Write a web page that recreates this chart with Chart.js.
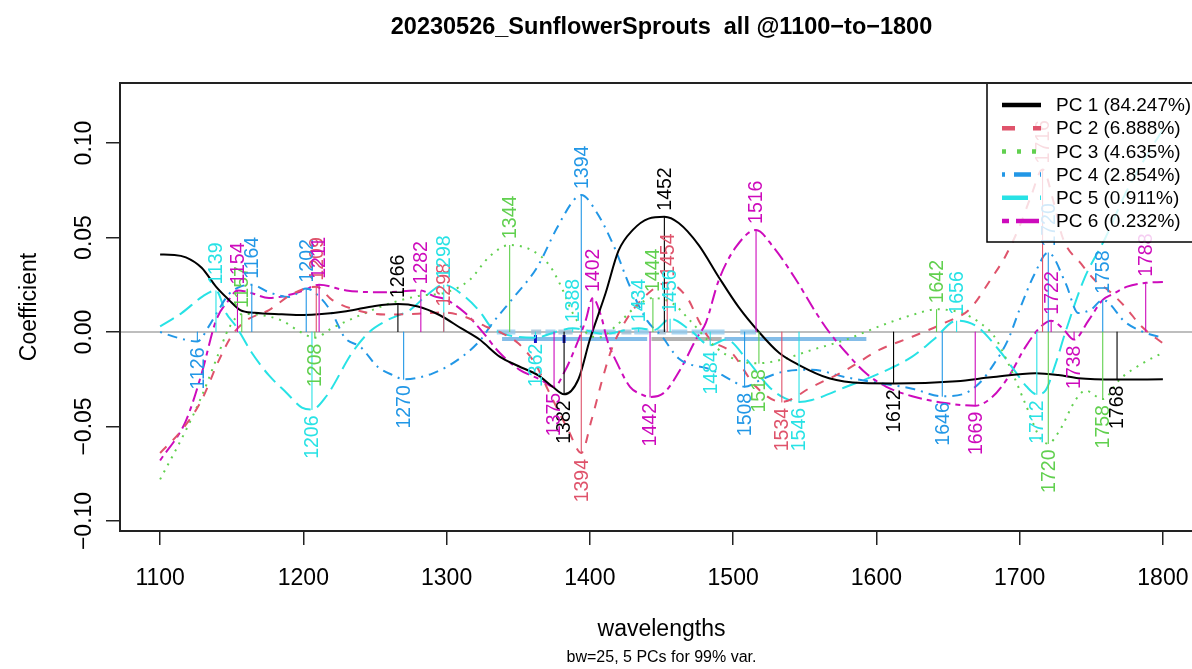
<!DOCTYPE html>
<html><head><meta charset="utf-8">
<script src="https://cdn.jsdelivr.net/npm/chart.js@4/dist/chart.umd.min.js"></script>
<style>html,body{margin:0;padding:0;overflow:hidden;background:#fff;width:1192px;height:669px}canvas{display:block}</style>
</head><body>
<canvas id="c" width="1210" height="669"></canvas>
<script>
// ---------- DATA ----------
const chartTitle = '20230526_SunflowerSprouts  all @1100\u2212to\u22121800';
const xTitle = 'wavelengths';
const yTitle = 'Coefficient';
const subTitle = 'bw=25, 5 PCs for 99% var.';
const wlTicks = [1100,1200,1300,1400,1500,1600,1700,1800];
const coefTicks = [-0.10,-0.05,0,0.05,0.10];
const coefTickLabels = ['\u22120.10','\u22120.05','0.00','0.05','0.10'];
const seriesNames = ['PC 1 (84.247%)','PC 2 (6.888%)','PC 3 (4.635%)','PC 4 (2.854%)','PC 5 (0.911%)','PC 6 (0.232%)'];

const pc1Wl = [1100,1110,1118,1129,1139,1148,1156,1166,1185,1200,1230,1250,1266,1280,1295,1310,1323,1337,1350,1364,1374,1382,1392,1400,1411,1420,1430,1441,1452,1462,1476,1490,1504,1518,1532,1546,1567,1590,1612,1656,1680,1711,1727,1741,1768,1800];
const pc1Val = [0.041,0.0408,0.0395,0.034,0.024,0.017,0.0116,0.0102,0.0094,0.009,0.011,0.0138,0.0148,0.0135,0.009,0.002,-0.004,-0.013,-0.018,-0.023,-0.029,-0.033,-0.025,-0.004,0.0206,0.043,0.054,0.060,0.061,0.0577,0.046,0.029,0.013,0.0,-0.011,-0.0175,-0.0245,-0.027,-0.0272,-0.026,-0.024,-0.0218,-0.0228,-0.0245,-0.0252,-0.025];

const pc2Wl = [1100,1115,1129,1141,1150,1160,1176,1192,1209,1220,1240,1260,1280,1298,1313,1327,1337,1350,1362,1371,1385,1394,1401,1408,1415,1425,1440,1454,1468,1476,1483,1499,1516,1534,1555,1579,1602,1625,1648,1665,1680,1690,1700,1708,1716,1724,1730,1743,1753,1762,1774,1785,1800];
const pc2Val = [-0.064,-0.052,-0.036,-0.015,-0.002,0.006,0.0116,0.02,0.024,0.017,0.011,0.0092,0.0097,0.0103,0.008,0.003,0.0,-0.006,-0.017,-0.031,-0.052,-0.064,-0.047,-0.027,-0.0095,0.006,0.02,0.026,0.018,0.006,-0.003,-0.011,-0.029,-0.037,-0.029,-0.020,-0.0095,-0.0025,0.005,0.012,0.028,0.040,0.056,0.072,0.086,0.068,0.05,0.036,0.027,0.022,0.013,0.003,-0.006];

const pc3Wl = [1100,1118,1129,1141,1148,1157,1170,1185,1198,1208,1220,1240,1260,1280,1300,1316,1330,1344,1360,1372,1380,1388,1397,1406,1418,1430,1444,1458,1470,1482,1495,1508,1518,1532,1555,1579,1602,1625,1642,1660,1672,1682,1692,1704,1715,1720,1728,1739,1746,1758,1770,1786,1800];
const pc3Val = [-0.078,-0.052,-0.034,-0.011,0.002,0.0095,0.009,0.006,0.0,-0.003,0.002,0.009,0.015,0.019,0.021,0.0275,0.04,0.046,0.043,0.035,0.024,0.01,0.0,-0.003,0.003,0.012,0.018,0.015,0.006,-0.004,-0.012,-0.016,-0.0165,-0.015,-0.0095,-0.004,0.003,0.009,0.012,0.01,0.005,-0.002,-0.0165,-0.038,-0.057,-0.059,-0.052,-0.036,-0.031,-0.0355,-0.025,-0.0165,-0.011];

const pc4Wl = [1100,1112,1126,1134,1141,1148,1156,1164,1176,1190,1202,1212,1220,1229,1240,1252,1263,1270,1290,1311,1325,1330,1347,1363,1377,1389,1394,1405,1417,1428,1440,1450,1462,1485,1500,1508,1520,1535,1555,1579,1602,1625,1646,1660,1672,1682,1692,1700,1710,1720,1732,1741,1750,1758,1774,1788,1800];
const pc4Val = [0.0,-0.003,-0.005,0.003,0.012,0.02,0.024,0.025,0.021,0.0185,0.023,0.018,0.01,-0.003,-0.008,-0.0185,-0.023,-0.025,-0.022,-0.013,-0.003,0.0026,0.0185,0.034,0.055,0.07,0.0725,0.063,0.045,0.024,0.006,-0.002,-0.014,-0.020,-0.026,-0.029,-0.025,-0.021,-0.020,-0.024,-0.027,-0.030,-0.034,-0.033,-0.027,-0.017,-0.004,0.012,0.030,0.042,0.026,0.010,0.012,0.017,0.005,-0.0005,-0.003];

const pc5Wl = [1100,1115,1130,1139,1146,1153,1164,1176,1188,1199,1206,1216,1234,1246,1258,1275,1287,1298,1313,1324,1331,1340,1362,1376,1388,1410,1434,1445,1456,1470,1484,1495,1510,1525,1536,1546,1555,1579,1602,1625,1640,1656,1670,1685,1697,1705,1712,1718,1725,1732,1745,1760,1775,1790,1800];
const pc5Val = [0.003,0.01,0.019,0.022,0.01,0.003,-0.011,-0.023,-0.032,-0.04,-0.041,-0.034,-0.011,0.0,0.006,0.012,0.02,0.025,0.0185,0.01,0.0026,-0.001,-0.003,0.0,0.002,-0.001,0.002,0.001,0.007,0.001,-0.007,-0.004,-0.015,-0.029,-0.035,-0.037,-0.036,-0.029,-0.022,-0.013,-0.004,0.006,0.003,-0.009,-0.021,-0.029,-0.033,-0.031,-0.017,0.0,0.028,0.05,0.075,0.095,0.107];

const pc6Wl = [1100,1118,1129,1139,1148,1154,1162,1176,1192,1200,1211,1230,1255,1282,1291,1300,1313,1324,1337,1351,1365,1375,1383,1390,1397,1402,1408,1412,1419,1428,1436,1442,1452,1463,1474,1481,1490,1502,1516,1528,1544,1558,1567,1579,1593,1607,1625,1648,1669,1680,1692,1704,1715,1722,1730,1738,1748,1758,1765,1775,1788,1800];
const pc6Val = [-0.068,-0.047,-0.022,0.006,0.017,0.022,0.021,0.018,0.02,0.022,0.025,0.022,0.021,0.022,0.019,0.017,0.01,0.001,-0.011,-0.02,-0.025,-0.029,-0.02,-0.008,0.006,0.018,0.008,-0.004,-0.0165,-0.029,-0.033,-0.0344,-0.032,-0.02,-0.004,0.005,0.0275,0.045,0.054,0.045,0.0275,0.01,0.0,-0.011,-0.022,-0.029,-0.034,-0.0376,-0.039,-0.035,-0.024,-0.008,0.003,0.006,0.002,-0.004,0.006,0.017,0.02,0.024,0.026,0.0265];

const pc1PeakWl = [1266,1382,1452,1612,1768];
const pc1PeakVal = [0.0148,-0.033,0.061,-0.0272,-0.0252];
const pc2PeakWl = [1209,1298,1394,1454,1534,1716];
const pc2PeakVal = [0.024,0.0103,-0.064,0.026,-0.037,0.086];
const pc3PeakWl = [1157,1208,1344,1444,1518,1642,1720,1758];
const pc3PeakVal = [0.0095,-0.003,0.046,0.018,-0.0165,0.012,-0.059,-0.0355];
const pc4PeakWl = [1126,1164,1202,1270,1394,1508,1646,1720,1758];
const pc4PeakVal = [-0.005,0.025,0.023,-0.025,0.0725,-0.029,-0.034,0.042,0.017];
const pc5PeakWl = [1139,1206,1298,1362,1388,1434,1456,1484,1546,1656,1712];
const pc5PeakVal = [0.022,-0.041,0.025,-0.003,0.002,0.002,0.007,-0.007,-0.037,0.006,-0.033];
const pc6PeakWl = [1154,1211,1282,1375,1402,1442,1516,1669,1722,1738,1788];
const pc6PeakVal = [0.022,0.025,0.022,-0.029,0.018,-0.0344,0.054,-0.039,0.006,-0.004,0.026];

// band indicators near zero
const bandRowAValue = 0;
const bandRowBValue = -0.0037;
const bandLightA = [[1335,1348],[1369,1376],[1397,1418],[1431,1441],[1457,1468],[1471,1494],[1505,1516]];
const bandGreyA = [[1359,1366],[1378,1388],[1422,1429],[1447,1453]];
const bandBlueB = [[1338.7,1440],[1494,1593]];
const bandGreyB = [[1443,1492]];
const bandMarkWl = [1362,1382];

// ---------- STYLE ----------
const FONT = '"Liberation Sans", Arial, Helvetica, sans-serif';
const colors = ['#000000','#DF536B','#61D04F','#2297E6','#28E2E5','#CD0BBC'];
const dashes = [[],[9,9],[2,6],[2,6,10,6],[16,7],[5,5,14,5]];
const legendDashes = [[],[13,18],[4,11],[3,9,17,9],[26,12],[7,7,23,7]];

const curveWl = [pc1Wl,pc2Wl,pc3Wl,pc4Wl,pc5Wl,pc6Wl];
const curveVal = [pc1Val,pc2Val,pc3Val,pc4Val,pc5Val,pc6Val];
const peakWl = [pc1PeakWl,pc2PeakWl,pc3PeakWl,pc4PeakWl,pc5PeakWl,pc6PeakWl];
const peakVal = [pc1PeakVal,pc2PeakVal,pc3PeakVal,pc4PeakVal,pc5PeakVal,pc6PeakVal];

function segData(pairs, y){
  const out=[];
  pairs.forEach(p=>{out.push({x:p[0],y:y},{x:p[1],y:y},{x:p[1],y:null});});
  return out;
}

const datasets = [];
datasets.push({data:[{x:1072,y:0},{x:1828,y:0}],borderColor:'#BEBEBE',borderWidth:2,pointRadius:0,order:100});
datasets.push({data:segData(bandLightA,bandRowAValue),borderColor:'rgba(140,200,238,0.75)',borderWidth:5,borderCapStyle:'butt',pointRadius:0,spanGaps:false,order:95});
datasets.push({data:segData(bandGreyA,bandRowAValue),borderColor:'rgba(150,185,210,0.75)',borderWidth:5,borderCapStyle:'butt',pointRadius:0,spanGaps:false,order:95});
datasets.push({data:segData(bandBlueB,bandRowBValue),borderColor:'rgba(110,178,228,0.85)',borderWidth:4,borderCapStyle:'butt',pointRadius:0,spanGaps:false,order:94});
datasets.push({data:segData(bandGreyB,bandRowBValue),borderColor:'rgba(170,170,170,0.9)',borderWidth:4,borderCapStyle:'butt',pointRadius:0,spanGaps:false,order:94});
datasets.push({data:bandMarkWl.map(w=>({x:w,y:bandRowBValue})),showLine:false,pointStyle:'line',rotation:90,pointRadius:4,pointBorderWidth:3,pointBorderColor:'#1515C8',pointBackgroundColor:'#1515C8',order:93});
for(let k=5;k>=0;k--){
  datasets.push({data:curveWl[k].map((w,i)=>({x:w,y:curveVal[k][i]})),borderColor:colors[k],borderWidth:2,borderDash:dashes[k],pointRadius:0,cubicInterpolationMode:'monotone',fill:false,order:50+k});
}
for(let k=0;k<6;k++){
  const d=[];
  peakWl[k].forEach((w,i)=>{d.push({x:w,y:0},{x:w,y:peakVal[k][i]},{x:w,y:null});});
  datasets.push({data:d,borderColor:colors[k],borderWidth:1.1,pointRadius:0,spanGaps:false,tension:0,order:20});
}

const overlay = {
  id:'overlay',
  afterDraw(chart){
    const ctx=chart.ctx, xs=chart.scales.x, ys=chart.scales.y, a=chart.chartArea;
    ctx.save();
    ctx.save();
    ctx.beginPath(); ctx.rect(a.left,a.top,a.right-a.left,a.bottom-a.top); ctx.clip();
    ctx.font='19.5px '+FONT; ctx.textBaseline='middle';
    for(let k=0;k<6;k++){
      ctx.fillStyle=colors[k];
      peakWl[k].forEach((w,i)=>{
        const v=peakVal[k][i];
        const px=xs.getPixelForValue(w), py=ys.getPixelForValue(v);
        ctx.save();
        ctx.translate(px+1, v>=0? py-6 : py+6);
        ctx.rotate(-Math.PI/2);
        ctx.textAlign = v>=0 ? 'left' : 'right';
        ctx.fillText(String(w),0,0);
        ctx.restore();
      });
    }
    ctx.restore();
    const lx=987, ly=a.top, lw=240, lh=159;
    ctx.fillStyle='rgba(255,255,255,0.8)';
    ctx.fillRect(lx,ly,lw,lh);
    ctx.strokeStyle='#000'; ctx.lineWidth=1.5;
    ctx.strokeRect(lx,ly,lw,lh);
    ctx.font='19px '+FONT; ctx.textAlign='left'; ctx.textBaseline='middle';
    for(let k=0;k<6;k++){
      const yy=ly+22+k*23.2;
      ctx.strokeStyle=colors[k]; ctx.lineWidth=4.5; ctx.lineCap='butt';
      ctx.setLineDash(legendDashes[k]);
      ctx.beginPath(); ctx.moveTo(1002,yy); ctx.lineTo(1041,yy); ctx.stroke();
      ctx.setLineDash([]);
      ctx.fillStyle='#000';
      ctx.fillText(seriesNames[k],1056,yy+1);
    }
    ctx.strokeStyle='#222'; ctx.lineWidth=2;
    ctx.strokeRect(a.left,a.top,a.right-a.left,a.bottom-a.top);
    const cx=(a.left+a.right)/2;
    ctx.fillStyle='#000'; ctx.textAlign='center'; ctx.textBaseline='middle';
    ctx.font='bold 23.5px '+FONT;
    ctx.fillText(chartTitle,cx,28);
    ctx.font='23px '+FONT;
    ctx.fillText(xTitle,cx,630);
    ctx.font='16px '+FONT;
    ctx.fillText(subTitle,cx,658);
    ctx.save();
    ctx.font='23px '+FONT;
    ctx.translate(30,(a.top+a.bottom)/2); ctx.rotate(-Math.PI/2);
    ctx.fillText(yTitle,0,0);
    ctx.restore();
    ctx.restore();
  }
};

new Chart(document.getElementById('c'),{
  type:'line',
  data:{datasets:datasets},
  options:{
    responsive:false, animation:false, devicePixelRatio:1,
    layout:{padding:{top:83,right:6,left:0,bottom:0}},
    plugins:{legend:{display:false},tooltip:{enabled:false},title:{display:false}},
    elements:{line:{borderJoinStyle:'round'}},
    scales:{
      x:{type:'linear',min:1072,max:1828,
        afterBuildTicks:s=>{s.ticks=wlTicks.map(v=>({value:v}));},
        afterFit:s=>{s.height=138;},
        border:{display:false},
        grid:{display:true,drawOnChartArea:false,drawTicks:true,tickLength:14,color:'#222',lineWidth:1.5},
        ticks:{autoSkip:false,maxRotation:0,color:'#000',padding:20,font:{size:23,family:FONT},callback:v=>String(v)}
      },
      y:{type:'linear',min:-0.1053,max:0.13175,
        afterBuildTicks:s=>{s.ticks=coefTicks.map(v=>({value:v}));},
        afterFit:s=>{s.width=120;},
        border:{display:false},
        grid:{display:true,drawOnChartArea:false,drawTicks:true,tickLength:14,color:'#222',lineWidth:1.5},
        ticks:{autoSkip:false,minRotation:90,maxRotation:90,crossAlign:'center',color:'#000',padding:-8,font:{size:23,family:FONT},
          callback:v=>{const i=coefTicks.findIndex(t=>Math.abs(t-v)<1e-9);return i>=0?coefTickLabels[i]:'';}}
      }
    }
  },
  plugins:[overlay]
});
</script>
</body></html>
